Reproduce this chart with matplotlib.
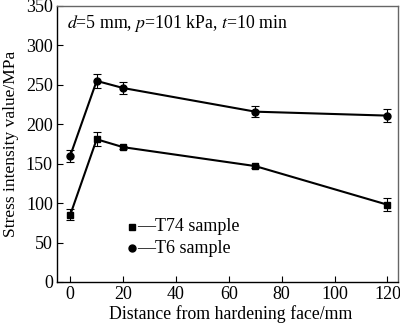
import matplotlib.pyplot as plt

plt.rcParams['font.family'] = ['Liberation Serif', 'DejaVu Serif']
plt.rcParams['mathtext.fontset'] = 'stix'

distance = [0, 10, 20, 70, 120]
t74_vals = [85, 181, 171, 147, 98]
t74_err = [7, 9, 2, 2, 8]
t6_vals = [160, 255, 246, 216, 211]
t6_err = [8, 9, 7, 7, 8]
x_ticks = [0, 20, 40, 60, 80, 100, 120]
y_ticks = [0, 50, 100, 150, 200, 250, 300, 350]

fig = plt.figure(figsize=(4, 3.25), dpi=100)
ax = fig.add_axes([57 / 400, 43 / 325, 341 / 400, 276 / 325])

ax.errorbar(distance, t74_vals, yerr=t74_err, color='black', marker='s', ms=5,
            lw=1.5, elinewidth=0.8, capsize=3, capthick=0.8)
ax.errorbar(distance, t6_vals, yerr=t6_err, color='black', marker='o', ms=5,
            lw=1.5, elinewidth=0.8, capsize=3, capthick=0.8)

ax.set_xlim(-5, 124)
ax.set_ylim(0, 350)
ax.set_xticks(x_ticks)
ax.set_yticks(y_ticks)
ax.tick_params(direction='in', labelsize=13, length=4, width=0.8, pad=3)
for s in ax.spines.values():
    s.set_linewidth(1.0)
ax.spines['top'].set_color('#666666')
ax.spines['right'].set_color('#666666')

ax.set_xlabel('Distance from hardening face/mm', fontsize=12.8)
ax.xaxis.set_label_coords(0.51, -0.115)
ax.xaxis.label.set_va('center')
ax.set_ylabel('Stress intensity value/MPa', fontsize=12.5, labelpad=5)

ax.text(0.03, 0.935, r'$\it{d}$=5 mm, $\it{p}$=101 kPa, $\it{t}$=10 min',
        transform=ax.transAxes, fontsize=12.8, va='center')

# legend drawn by hand
ax.plot([23.2], [70], marker='s', color='black', ms=5)
ax.text(25.5, 70, '—T74 sample', fontsize=13, va='center')
ax.plot([23.2], [43], marker='o', color='black', ms=5)
ax.text(25.5, 43, '—T6 sample', fontsize=13, va='center')

fig.savefig('out.png', dpi=100)
